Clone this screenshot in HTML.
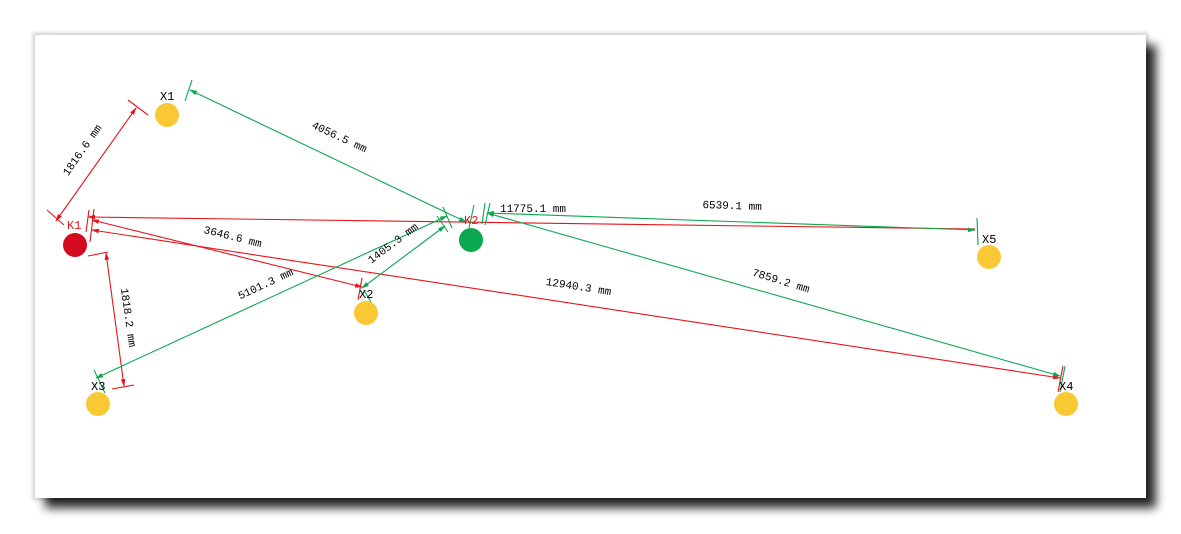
<!DOCTYPE html>
<html><head><meta charset="utf-8"><style>
html,body{margin:0;padding:0;background:#fff;width:1181px;height:534px;overflow:hidden}
</style></head><body>
<svg width="1181" height="534" viewBox="0 0 1181 534" xmlns="http://www.w3.org/2000/svg" font-family="'Liberation Mono','Noto Serif CJK SC',monospace" font-size="11">
<defs>
<filter id="sh" x="-5%" y="-5%" width="115%" height="125%"><feGaussianBlur stdDeviation="5"/></filter>
<filter id="sh2" x="-5%" y="-5%" width="115%" height="125%"><feGaussianBlur stdDeviation="2"/></filter>
<marker id="ar" viewBox="0 0 10 10" refX="9" refY="5" markerWidth="7" markerHeight="7" orient="auto-start-reverse"><path d="M0,2 L10,5 L0,8z" fill="#e8141c"/></marker>
<marker id="ag" viewBox="0 0 10 10" refX="9" refY="5" markerWidth="7" markerHeight="7" orient="auto-start-reverse"><path d="M0,2 L10,5 L0,8z" fill="#0aa84f"/></marker>
</defs>
<rect x="33" y="33" width="1115" height="467" fill="#000" opacity="0.2" filter="url(#sh2)"/>
<rect x="45" y="45" width="1111" height="463" fill="#000" opacity="0.85" filter="url(#sh)"/>
<rect x="35" y="35" width="1111" height="463" fill="#fff"/>
<g stroke-width="1.1" fill="none">
<g stroke="#e8141c">
<line x1="56" y1="221" x2="136" y2="108" marker-start="url(#ar)" marker-end="url(#ar)"/>
<line x1="47" y1="210" x2="64" y2="225"/><line x1="128" y1="100" x2="148" y2="115"/>
<line x1="88" y1="217" x2="975" y2="229" marker-start="url(#ar)"/>
<line x1="92" y1="220" x2="362" y2="287" marker-start="url(#ar)" marker-end="url(#ar)"/>
<line x1="92" y1="230" x2="1060" y2="378" marker-start="url(#ar)" marker-end="url(#ar)"/>
<line x1="106" y1="253" x2="124" y2="386" marker-start="url(#ar)" marker-end="url(#ar)"/>
<line x1="88" y1="256" x2="108" y2="252"/><line x1="112" y1="389" x2="134" y2="385"/>
<line x1="89" y1="210" x2="86" y2="232"/><line x1="94" y1="209" x2="90" y2="242"/>
<line x1="362" y1="278" x2="358" y2="300"/><line x1="1063" y1="366" x2="1058" y2="392"/>
</g>
<g stroke="#0aa84f">
<line x1="190" y1="90" x2="466" y2="222" marker-start="url(#ag)" marker-end="url(#ag)"/>
<line x1="185" y1="101" x2="192" y2="80"/>
<line x1="487" y1="213" x2="975" y2="230" marker-start="url(#ag)" marker-end="url(#ag)"/>
<line x1="977" y1="218" x2="978" y2="245"/>
<line x1="96" y1="378" x2="447" y2="216" marker-start="url(#ag)" marker-end="url(#ag)"/>
<line x1="362" y1="288" x2="445" y2="226" marker-start="url(#ag)" marker-end="url(#ag)"/>
<line x1="487" y1="213" x2="1060" y2="376" marker-start="url(#ag)" marker-end="url(#ag)"/>
<line x1="94" y1="370" x2="105" y2="393"/><line x1="443" y1="207" x2="452" y2="228"/>
<line x1="437" y1="216" x2="448" y2="232"/><line x1="474" y1="205" x2="469" y2="228"/>
<line x1="485" y1="203" x2="482" y2="224"/><line x1="490" y1="203" x2="485" y2="225"/>
<line x1="364" y1="290" x2="372" y2="304"/><line x1="1065" y1="366" x2="1060" y2="392"/>
</g>
</g>
<circle cx="75" cy="245" r="12" fill="#d40a1e"/>
<circle cx="471" cy="240" r="12" fill="#0aa84f"/>
<g fill="#f9c935">
<circle cx="167" cy="115" r="12"/><circle cx="366" cy="313" r="12"/><circle cx="98" cy="404" r="12"/><circle cx="989" cy="257" r="12"/><circle cx="1066" cy="404" r="12"/>
</g>
<g font-size="12">
<text x="160" y="100" fill="#000">X1</text>
<text x="67" y="229" fill="#e8141c">K1</text>
<text x="464" y="224" fill="#e8141c">K2</text>
<text x="359" y="298" fill="#000">X2</text>
<text x="91" y="390" fill="#000">X3</text>
<text x="982" y="243" fill="#000">X5</text>
<text x="1059" y="390" fill="#000">X4</text>
</g>
<g fill="#000" text-anchor="middle">
<text transform="translate(85,152) rotate(-55)">1816.6 mm</text>
<text transform="translate(338,140) rotate(25)">4056.5 mm</text>
<text x="533" y="212">11775.1 mm</text>
<text transform="translate(732,209) rotate(2)">6539.1 mm</text>
<text transform="translate(232,240) rotate(14)">3646.6 mm</text>
<text transform="translate(395,246) rotate(-37)">1405.3 mm</text>
<text transform="translate(267,287) rotate(-25)">5101.3 mm</text>
<text transform="translate(578,290) rotate(9)">12940.3 mm</text>
<text transform="translate(780,284) rotate(17)">7859.2 mm</text>
<text transform="translate(125,318) rotate(82)">1818.2 mm</text>
</g>
</svg>
</body></html>
